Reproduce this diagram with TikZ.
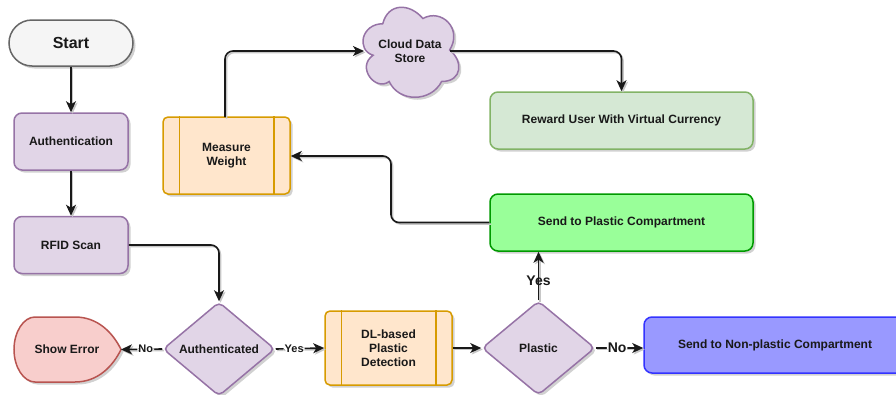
\documentclass[tikz,border=0pt]{standalone}
\usepackage{fontspec}
\setmainfont{Liberation Sans}
\usetikzlibrary{arrows.meta,shapes.geometric,shadows}
\definecolor{grayfill}{HTML}{F5F5F5}
\definecolor{graydraw}{HTML}{666666}
\definecolor{purplefill}{HTML}{E1D5E7}
\definecolor{purpledraw}{HTML}{9673A6}
\definecolor{orangefill}{HTML}{FFE6CC}
\definecolor{orangedraw}{HTML}{D79B00}
\definecolor{lgreenfill}{HTML}{D5E8D4}
\definecolor{lgreendraw}{HTML}{82B366}
\definecolor{bgreenfill}{HTML}{99FF99}
\definecolor{bgreendraw}{HTML}{009900}
\definecolor{bluefill}{HTML}{9999FF}
\definecolor{bluedraw}{HTML}{3333FF}
\definecolor{redfill}{HTML}{F8CECC}
\definecolor{reddraw}{HTML}{B85450}
\tikzset{
  shad/.style={drop shadow={shadow xshift=2.5pt,shadow yshift=-2.5pt,fill=black,opacity=0.18}},
  base/.style={font=\fontsize{12}{14}\selectfont\bfseries, align=center, line width=1.5pt, inner sep=0pt, text=black!90},
  procbox/.style={base, shad, draw=purpledraw, fill=purplefill, rounded corners=8pt, minimum width=114pt, minimum height=57pt},
  subproc/.style={base, shad, draw=orangedraw, fill=orangefill, rounded corners=5pt, minimum width=127pt},
  widebox/.style={base, shad, rounded corners=8pt, minimum width=263pt, minimum height=57pt},
  decision/.style={base, shad, diamond, draw=purpledraw, fill=purplefill, rounded corners=5pt, minimum width=112pt, minimum height=94pt},
  conn/.style={line width=1.6pt, black!90, rounded corners=8pt, -{Stealth[length=11pt,width=10pt,inset=3pt]},
    preaction={draw=black!22, line width=1.5pt, transform canvas={xshift=1.5pt,yshift=-1.5pt}}},
  elabel/.style={font=\fontsize{11}{12}\selectfont\bfseries, text=black!90, fill=white, inner sep=1pt},
  blabel/.style={font=\fontsize{14}{15}\selectfont\bfseries, text=black!90, inner sep=1pt}
}
\begin{document}
\begin{tikzpicture}[x=1pt,y=-1pt]
\useasboundingbox (0,0) rectangle (896,394);
\clip (0,0) rectangle (896,394);

% nodes
\node[base, shad, draw=graydraw, fill=grayfill, rounded corners=23pt, minimum width=124pt, minimum height=46pt,
      font=\fontsize{16}{18}\selectfont\bfseries] (start) at (71,43) {Start};
\node[procbox] (auth) at (71,141.5) {Authentication};
\node[procbox] (rfid) at (71,245) {RFID Scan};

\node[subproc, minimum height=77pt] (mw) at (226.5,155.5) {Measure\\Weight};
\draw[orangedraw, line width=1.5pt] ([xshift=17pt]mw.north west) -- ([xshift=17pt]mw.south west)
  ([xshift=-17pt]mw.north east) -- ([xshift=-17pt]mw.south east);

\node[subproc, minimum height=74pt] (dl) at (388.5,348) {DL-based\\Plastic\\Detection};
\draw[orangedraw, line width=1.5pt] ([xshift=17pt]dl.north west) -- ([xshift=17pt]dl.south west)
  ([xshift=-17pt]dl.north east) -- ([xshift=-17pt]dl.south east);

\node[widebox, draw=lgreendraw, fill=lgreenfill] (reward) at (621.5,120.5) {Reward User With Virtual Currency};
\node[widebox, draw=bgreendraw, fill=bgreenfill] (plbox) at (621.5,222.5) {Send to Plastic Compartment};
\node[widebox, draw=bluedraw, fill=bluefill, minimum height=56pt, minimum width=262pt] (npbox) at (775,345) {Send to Non-plastic Compartment};

\node[decision] (authd) at (219,349) {Authenticated};
\node[decision, minimum width=113pt] (pld) at (538.5,348) {Plastic};

% show error shape
\path[shad, draw=reddraw, fill=redfill, line width=1.5pt]
  (35,317) -- (75,317) .. controls (98,317) and (113,333) .. (121,349.5)
  .. controls (113,366) and (98,382) .. (75,382) -- (35,382)
  .. controls (23.5,382) and (14,367) .. (14,349.5)
  .. controls (14,332) and (23.5,317) .. (35,317) -- cycle;
\node[base] (err) at (67,349.5) {Show Error};
\coordinate (errtip) at (121,349.5);

% cloud
\begin{scope}[shift={(356,-2.5)}, x=107pt, y=-105pt]
\path[shad, draw=purpledraw, fill=purplefill, line width=1.5pt]
  (0.25,0.25) .. controls (0.05,0.25) and (0,0.5) .. (0.16,0.55)
  .. controls (0,0.66) and (0.18,0.9) .. (0.31,0.8)
  .. controls (0.4,1) and (0.7,1) .. (0.8,0.8)
  .. controls (1,0.8) and (1,0.6) .. (0.875,0.5)
  .. controls (1,0.3) and (0.8,0.1) .. (0.625,0.2)
  .. controls (0.5,0.05) and (0.3,0.05) .. (0.25,0.25) -- cycle;
\end{scope}
\node[base] (cloud) at (410,51) {Cloud Data\\Store};
\coordinate (cloudin) at (364,51);
\coordinate (cloudout) at (450,51);

% connectors
\draw[conn] (start) -- (auth);
\draw[conn] (auth) -- (rfid);
\draw[conn] (rfid.east) -| (authd.north);
\draw[conn] (authd.west) -- node[elabel, pos=0.4]{No} (errtip);
\draw[conn] (authd.east) -- node[elabel, pos=0.38]{Yes} (dl.west);
\draw[conn] (dl.east) -- (pld.west);
\draw[conn] (pld.north) -- node[blabel, pos=0.4]{Yes} (pld.north |- plbox.south);
\draw[conn] (pld.east) -- node[blabel, fill=white, pos=0.45]{No} (pld.east -| npbox.west);
\draw[conn] (plbox.west) -- (391,222.5) -- (391,156) -- (mw.east |- 0,156);
\draw[conn] (225,117) |- (cloudin);
\draw[conn] (cloudout) -| (reward.north);
\end{tikzpicture}
\end{document}
